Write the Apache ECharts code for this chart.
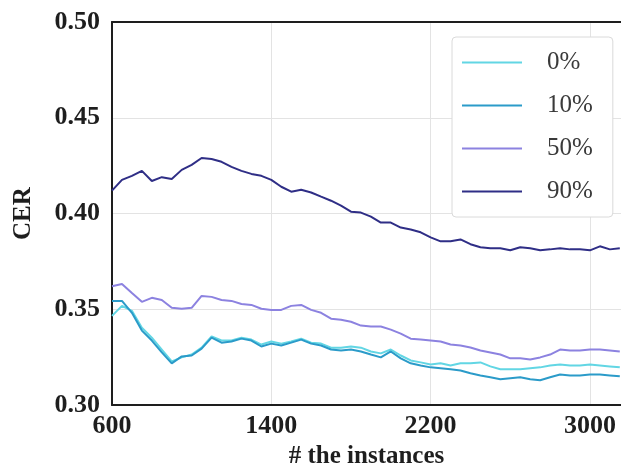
<!DOCTYPE html>
<html>
<head>
<meta charset="utf-8">
<script src="https://cdn.jsdelivr.net/npm/echarts@6/dist/echarts.min.js"></script>
<style>
  html, body { margin: 0; padding: 0; background: #ffffff; }
  #chart { width: 621px; height: 474px; }
</style>
</head>
<body>
<div id="chart"></div>
<script>
// number of instances seen so far
const instances = [600, 650, 700, 750, 800, 850, 900, 950, 1000, 1050, 1100, 1150, 1200, 1250, 1300, 1350,
  1400, 1450, 1500, 1550, 1600, 1650, 1700, 1750, 1800, 1850, 1900, 1950, 2000, 2050, 2100, 2150,
  2200, 2250, 2300, 2350, 2400, 2450, 2500, 2550, 2600, 2650, 2700, 2750, 2800, 2850, 2900, 2950,
  3000, 3050, 3100, 3150];

// classification error rate per setting
const cer0 = [0.3466, 0.3518, 0.3492, 0.3404, 0.3352, 0.3290, 0.3228, 0.3249, 0.3264, 0.3300, 0.3358, 0.3337,
  0.3337, 0.3352, 0.3342, 0.3316, 0.3332, 0.3321, 0.3332, 0.3347, 0.3326, 0.3321, 0.3300, 0.3300,
  0.3306, 0.3300, 0.3280, 0.3270, 0.3290, 0.3259, 0.3233, 0.3223, 0.3212, 0.3218, 0.3207, 0.3218,
  0.3218, 0.3223, 0.3202, 0.3187, 0.3187, 0.3187, 0.3192, 0.3197, 0.3207, 0.3212, 0.3207, 0.3207,
  0.3212, 0.3207, 0.3202, 0.3197];
const cer10 = [0.3544, 0.3544, 0.3482, 0.3389, 0.3337, 0.3275, 0.3218, 0.3254, 0.3259, 0.3295, 0.3352, 0.3326,
  0.3332, 0.3347, 0.3337, 0.3306, 0.3321, 0.3311, 0.3326, 0.3342, 0.3321, 0.3311, 0.3290, 0.3285,
  0.3290, 0.3280, 0.3264, 0.3249, 0.3280, 0.3244, 0.3218, 0.3207, 0.3197, 0.3192, 0.3187, 0.3181,
  0.3166, 0.3155, 0.3145, 0.3135, 0.3140, 0.3145, 0.3135, 0.3130, 0.3145, 0.3160, 0.3155, 0.3155,
  0.3160, 0.3160, 0.3155, 0.3150];
const cer50 = [0.3620, 0.3632, 0.3585, 0.3539, 0.3560, 0.3549, 0.3508, 0.3503, 0.3508, 0.3570, 0.3565, 0.3549,
  0.3544, 0.3528, 0.3523, 0.3503, 0.3497, 0.3497, 0.3518, 0.3523, 0.3497, 0.3482, 0.3451, 0.3446,
  0.3435, 0.3415, 0.3410, 0.3410, 0.3394, 0.3373, 0.3347, 0.3342, 0.3337, 0.3332, 0.3316, 0.3311,
  0.3301, 0.3285, 0.3275, 0.3264, 0.3244, 0.3244, 0.3238, 0.3249, 0.3264, 0.3290, 0.3285, 0.3285,
  0.3290, 0.3290, 0.3285, 0.3280];
const cer90 = [0.4120, 0.4176, 0.4197, 0.4223, 0.4170, 0.4190, 0.4180, 0.4228, 0.4254, 0.4290, 0.4285, 0.4270,
  0.4244, 0.4223, 0.4207, 0.4197, 0.4176, 0.4140, 0.4114, 0.4124, 0.4110, 0.4088, 0.4067, 0.4041,
  0.4010, 0.4005, 0.3984, 0.3953, 0.3953, 0.3927, 0.3917, 0.3902, 0.3876, 0.3855, 0.3855, 0.3865,
  0.3840, 0.3824, 0.3819, 0.3819, 0.3808, 0.3824, 0.3819, 0.3808, 0.3813, 0.3819, 0.3813, 0.3813,
  0.3808, 0.3829, 0.3813, 0.3819];

const seriesNames = ['0%', '10%', '50%', '90%'];
const seriesValues = [cer0, cer10, cer50, cer90];
const seriesColors = ['#62d6e4', '#2b9bc9', '#8c82e0', '#2f2e86'];

const xTicks = [600, 1400, 2200, 3000];
const xMax = 3156;
const yTicks = [0.30, 0.35, 0.40, 0.45, 0.50];

const serif = '"Liberation Serif", "DejaVu Serif", serif';

const chart = echarts.init(document.getElementById('chart'), null, { renderer: 'canvas' });

chart.setOption({
  backgroundColor: '#ffffff',
  animation: false,
  grid: {
    left: 112, top: 22, right: 0, bottom: 66,
    show: false
  },
  legend: {
    orient: 'vertical',
    left: 452, top: 37,
    data: seriesNames,
    icon: 'rect',
    backgroundColor: '#ffffff',
    borderColor: '#dadada', borderWidth: 1, borderRadius: 4,
    padding: [13, 20, 13, 10],
    itemWidth: 60, itemHeight: 2, itemGap: 18,
    textStyle: { fontFamily: serif, fontSize: 25, color: '#3a3a3a', padding: [0, 0, 0, 20] }
  },
  xAxis: [{
    type: 'value',
    min: xTicks[0], max: xMax, interval: xTicks[1] - xTicks[0],
    name: '# the instances', nameLocation: 'middle', nameGap: 36,
    nameTextStyle: { fontFamily: serif, fontSize: 25, fontWeight: 'bold', color: '#1e1e1e' },
    axisLine: { show: true, lineStyle: { color: '#1e1e1e', width: 2 } },
    axisTick: { show: false },
    axisLabel: { fontFamily: serif, fontSize: 26, fontWeight: 'bold', color: '#1e1e1e', margin: 8,
      showMaxLabel: false, formatter: v => String(v) },
    splitLine: { show: true, lineStyle: { color: '#e3e3e3', width: 1 } }
  }, {
    // top frame edge
    type: 'value', position: 'top',
    min: xTicks[0], max: xMax,
    axisLine: { show: true, lineStyle: { color: '#1e1e1e', width: 2 } },
    axisTick: { show: false }, axisLabel: { show: false }, splitLine: { show: false }
  }],
  yAxis: {
    type: 'value',
    min: yTicks[0], max: yTicks[yTicks.length - 1], interval: 0.05,
    name: 'CER', nameLocation: 'middle', nameGap: 76,
    nameTextStyle: { fontFamily: serif, fontSize: 25, fontWeight: 'bold', color: '#1e1e1e' },
    axisLine: { show: true, lineStyle: { color: '#1e1e1e', width: 2 } },
    axisTick: { show: false },
    axisLabel: { fontFamily: serif, fontSize: 26, fontWeight: 'bold', color: '#1e1e1e', margin: 12,
      formatter: v => v.toFixed(2) },
    splitLine: { show: true, lineStyle: { color: '#e3e3e3', width: 1 } }
  },
  series: seriesNames.map((name, i) => ({
    name: name,
    type: 'line',
    symbol: 'none',
    color: seriesColors[i],
    lineStyle: { width: 2, color: seriesColors[i] },
    data: instances.map((x, j) => [x, seriesValues[i][j]])
  }))
});
</script>
</body>
</html>
